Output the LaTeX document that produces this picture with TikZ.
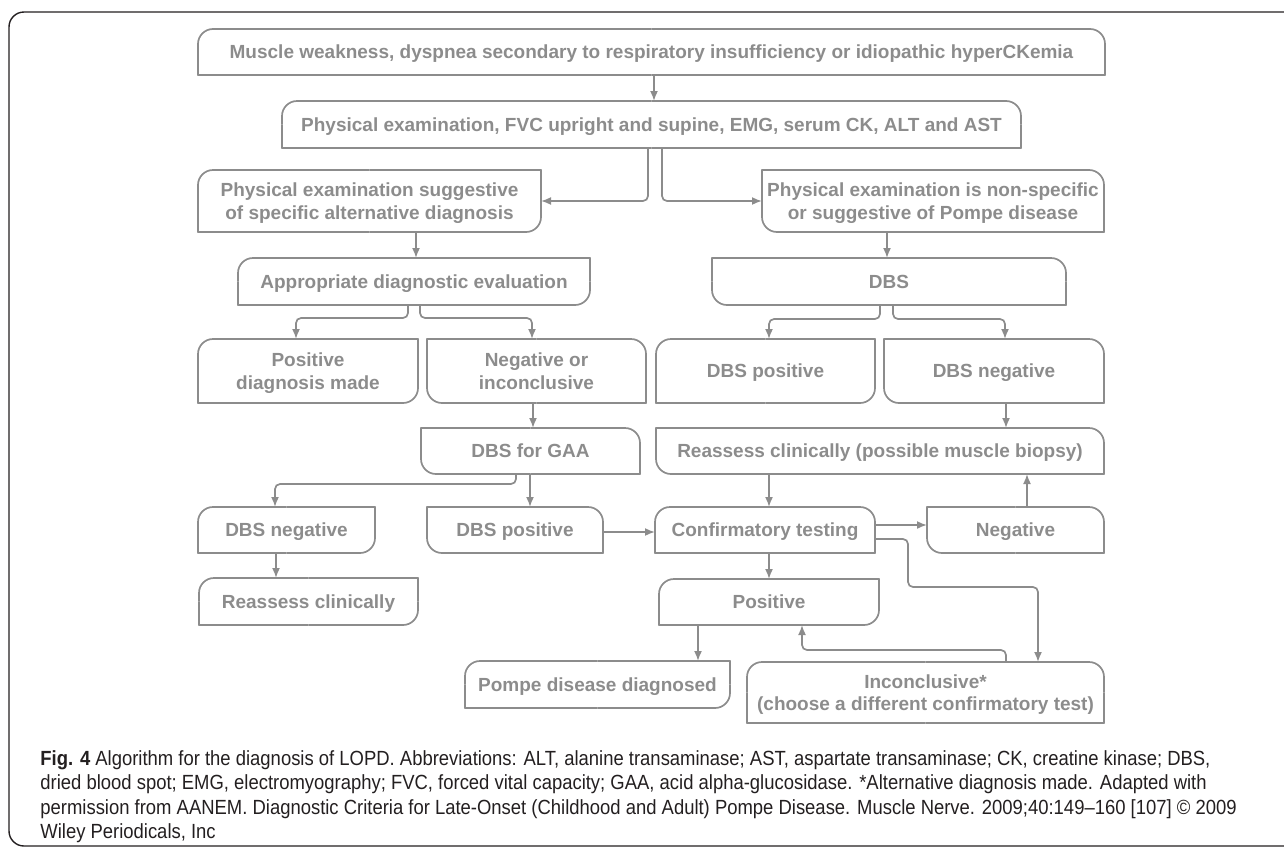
\documentclass[tikz,border=0pt]{standalone}
\usepackage{fontspec}
\setmainfont{Liberation Sans}
\newfontfamily\capfont[FakeStretch=0.9]{Liberation Sans}
\usepackage{tikz}
\usepackage{xcolor}
\usetikzlibrary{arrows.meta}
\definecolor{flowgray}{HTML}{8C8C8C}
\definecolor{capblack}{HTML}{231F20}

\begin{document}
\begin{tikzpicture}[x=1pt,y=-1pt,>={Latex[length=10pt,width=8pt]},thick,
    box/.style={draw=none,inner sep=0pt,outer sep=0pt,align=center,text=flowgray,
                text depth=0pt,font=\fontsize{19}{22.7}\selectfont\bfseries},
    boxline/.style={draw=flowgray,line width=1.7pt},
    arr/.style={->,draw=flowgray,line width=1.7pt,rounded corners=5pt}]

  \useasboundingbox (0,0) rectangle (1284,849);
  \draw[capblack,line width=1.4pt,rounded corners=15pt] (9,12) rectangle (1320,846);

  \node[box,minimum width=907pt,minimum height=46pt] (top) at (651.5,52)
    {Muscle weakness, dyspnea secondary to respiratory insufficiency or idiopathic hyperCKemia};
  \node[box,minimum width=739pt,minimum height=47pt] (exam) at (651.5,124.5)
    {Physical examination, FVC upright and supine, EMG, serum CK, ALT and AST};
  \node[box,minimum width=343pt,minimum height=62pt] (altdx) at (369.5,201)
    {Physical examination suggestive\\of specific alternative diagnosis};
  \node[box,minimum width=342pt,minimum height=62pt] (nonspec) at (933,201)
    {Physical examination is non-specific\\or suggestive of Pompe disease};
  \node[box,minimum width=352pt,minimum height=47pt] (appeval) at (414,281.5)
    {Appropriate diagnostic evaluation};
  \node[box,minimum width=354pt,minimum height=47pt] (dbs) at (889,281.5) {DBS};
  \node[box,minimum width=220pt,minimum height=64pt] (posdx) at (308,371)
    {Positive\\diagnosis made};
  \node[box,minimum width=219pt,minimum height=64pt] (neginc) at (536.5,371)
    {Negative or\\inconclusive};
  \node[box,minimum width=219pt,minimum height=64pt] (dbspos) at (765.5,371) {DBS positive};
  \node[box,minimum width=220pt,minimum height=64pt] (dbsneg) at (994,371) {DBS negative};
  \node[box,minimum width=219pt,minimum height=46pt] (dbsgaa) at (530.5,451) {DBS for GAA};
  \node[box,minimum width=448pt,minimum height=46pt] (reassbx) at (880,451)
    {Reassess clinically (possible muscle biopsy)};
  \node[box,minimum width=177pt,minimum height=46pt] (gaaneg) at (286.5,530) {DBS negative};
  \node[box,minimum width=176pt,minimum height=46pt] (gaapos) at (515,530) {DBS positive};
  \node[box,minimum width=220pt,minimum height=46pt] (confirm) at (765,530) {Confirmatory testing};
  \node[box,minimum width=177pt,minimum height=46pt] (negative) at (1015.5,530) {Negative};
  \node[box,minimum width=219pt,minimum height=47pt] (reass) at (308.5,601.5) {Reassess clinically};
  \node[box,minimum width=220pt,minimum height=46pt] (positive) at (769,602) {Positive};
  \node[box,minimum width=265pt,minimum height=47pt] (pompe) at (597.5,684.5) {Pompe disease diagnosed};
  \node[box,minimum width=357pt,minimum height=61pt] (inconcl) at (925.5,692.5)
    {Inconclusive*\\(choose a different confirmatory test)};

  % outlines: corner radius top left / top right / bottom right / bottom left
  \foreach \n/\a/\b/\c/\d in {top/15pt/15pt/0.1pt/0.1pt, exam/15pt/15pt/0.1pt/0.1pt,
      altdx/15pt/0.1pt/15pt/0.1pt, nonspec/0.1pt/15pt/0.1pt/15pt, appeval/15pt/0.1pt/15pt/0.1pt,
      dbs/0.1pt/15pt/0.1pt/15pt, posdx/15pt/0.1pt/15pt/0.1pt, neginc/0.1pt/15pt/0.1pt/15pt,
      dbspos/15pt/0.1pt/15pt/0.1pt, dbsneg/0.1pt/15pt/0.1pt/15pt, dbsgaa/0.1pt/15pt/0.1pt/15pt,
      reassbx/0.1pt/15pt/0.1pt/15pt, gaaneg/15pt/0.1pt/15pt/0.1pt, gaapos/0.1pt/15pt/0.1pt/15pt,
      confirm/15pt/15pt/0.1pt/0.1pt, negative/0.1pt/15pt/0.1pt/15pt, reass/15pt/0.1pt/15pt/0.1pt,
      positive/15pt/0.1pt/15pt/0.1pt, pompe/15pt/0.1pt/15pt/0.1pt, inconcl/15pt/15pt/0.1pt/0.1pt}
  {
    \draw[boxline,rounded corners=\a] (\n.west) -- (\n.north west) -- (\n.north);
    \draw[boxline,rounded corners=\b] (\n.north) -- (\n.north east) -- (\n.east);
    \draw[boxline,rounded corners=\c] (\n.east) -- (\n.south east) -- (\n.south);
    \draw[boxline,rounded corners=\d] (\n.south) -- (\n.south west) -- (\n.west);
  }

  % straight arrows
  \path
    ([xshift=2.5pt]top.south) edge[arr] ([xshift=2.5pt]top.south |- exam.north)
    ([xshift=2pt]appeval.north |- altdx.south) edge[arr] ([xshift=2pt]appeval.north)
    ([xshift=-2pt]dbs.north |- nonspec.south) edge[arr] ([xshift=-2pt]dbs.north)
    ([xshift=2.5pt]dbsgaa.north |- neginc.south) edge[arr] ([xshift=2.5pt]dbsgaa.north)
    ([xshift=12pt]dbsneg.south) edge[arr] ([xshift=12pt]dbsneg.south |- reassbx.north)
    ([xshift=-0.5pt]dbsgaa.south) edge[arr] ([xshift=-0.5pt]dbsgaa.south |- gaapos.north)
    ([xshift=-10.5pt]gaaneg.south) edge[arr] ([xshift=-10.5pt]gaaneg.south |- reass.north)
    ([yshift=-2pt]gaapos.east) edge[arr] ([yshift=-2pt]gaapos.east -| confirm.west)
    ([xshift=4pt]confirm.north |- reassbx.south) edge[arr] ([xshift=4pt]confirm.north)
    ([yshift=5pt]confirm.east) edge[arr] ([yshift=5pt]confirm.east -| negative.west)
    ([xshift=11.5pt]negative.north) edge[arr] ([xshift=11.5pt]negative.north |- reassbx.south)
    ([xshift=4pt]confirm.south) edge[arr] ([xshift=4pt]confirm.south |- positive.north)
    ([xshift=100.5pt]pompe.north |- positive.south) edge[arr] ([xshift=100.5pt]pompe.north);

  % bent arrows
  \draw[arr] ([xshift=-3.5pt]exam.south) |- (altdx.east);
  \draw[arr] ([xshift=10.5pt]exam.south) |- (nonspec.west);
  \draw[arr] ([xshift=-6pt]appeval.south) -- ++(0,13) -| ([xshift=-12pt]posdx.north);
  \draw[arr] ([xshift=6pt]appeval.south) -- ++(0,13) -| ([xshift=-4.5pt]neginc.north);
  \draw[arr] ([xshift=-9pt]dbs.south) -- ++(0,14) -| ([xshift=3.5pt]dbspos.north);
  \draw[arr] ([xshift=4pt]dbs.south) -- ++(0,14) -| ([xshift=11pt]dbsneg.north);
  \draw[arr] ([xshift=-14.5pt]dbsgaa.south) -- ++(0,10) -| ([xshift=-11.5pt]gaaneg.north);
  \draw[arr] ([yshift=-9pt]confirm.east) -- ++(33,0) -- ++(0,48) -| ([xshift=112.5pt]inconcl.north);
  \draw[arr] ([xshift=80.5pt]inconcl.north) -- ++(0,-12) -| ([xshift=33pt]positive.south);

  \node[anchor=north west,inner sep=0pt,align=left,text=capblack,
        font=\capfont\fontsize{20.5}{24.5}\selectfont] (caption) at (40,750)
    {{\bfseries Fig. 4} Algorithm for the diagnosis of LOPD. Abbreviations: ALT, alanine transaminase; AST, aspartate transaminase; CK, creatine kinase; DBS,\\
     dried blood spot; EMG, electromyography; FVC, forced vital capacity; GAA, acid alpha-glucosidase. *Alternative diagnosis made. Adapted with\\
     permission from AANEM. Diagnostic Criteria for Late-Onset (Childhood and Adult) Pompe Disease. Muscle Nerve. 2009;40:149–160 [107] © 2009\\
     Wiley Periodicals, Inc};
\end{tikzpicture}
\end{document}
